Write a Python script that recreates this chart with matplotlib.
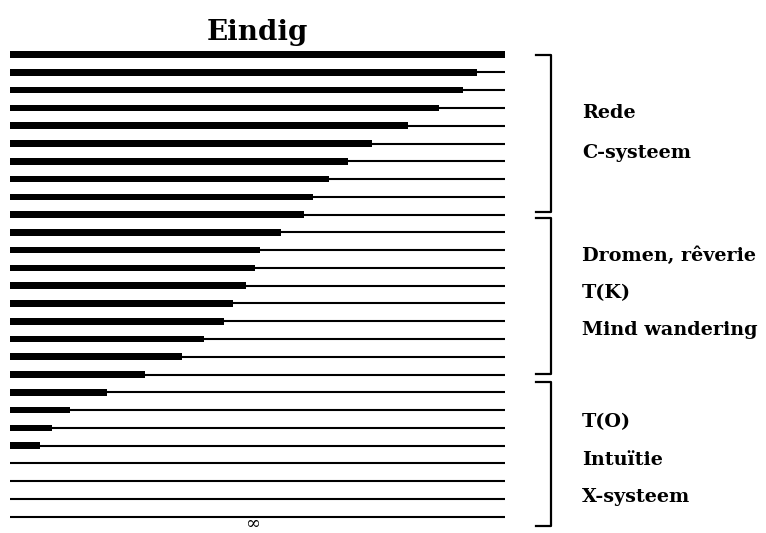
import numpy as np
import matplotlib
matplotlib.use("Agg")
import matplotlib.pyplot as plt
import matplotlib.transforms as mtransforms

# bar lengths per row, top to bottom (percent of full length)
values = [100, 94.3, 91.5, 86.7, 80.5, 73.1, 68.3, 64.4, 61.2, 59.4,
          54.7, 50.5, 49.5, 47.7, 45.1, 43.2, 39.2, 34.7, 27.3, 19.6,
          12.1, 8.5, 6.1, 0, 0, 0, 0]

# bracket spans in row units and the labels beside them
bracket_spans = [(0.0, 8.83), (9.17, 17.98), (18.4, 26.5)]
group_labels = [["Rede", "C-systeem"],
                ["Dromen, rêverie", "T(K)", "Mind wandering"],
                ["T(O)", "Intuïtie", "X-systeem"]]
label_rows = [[3.28, 5.53],
              [11.3, 13.4, 15.5],
              [20.7, 22.8, 24.9]]

title = "Eindig"
xlabel = "∞"

plt.rcParams['font.family'] = ['DejaVu Serif']

fig = plt.figure(figsize=(7.66, 5.33), dpi=100)
ax = fig.add_axes([10/766, 0.0039, 495/766, 0.9102])

rows = np.arange(len(values))
ax.hlines(rows, 0, 100, color='black', lw=1.5)
ax.barh(rows, values, height=0.37, color='black', left=0)

ax.set_xlim(0, 100)
ax.set_ylim(26.8, -0.5)
ax.axis('off')

ax.set_title(title, fontsize=20, fontweight='bold', pad=4)

trans = mtransforms.blended_transform_factory(ax.transAxes, ax.transData)
x_in, x_out = 1.0626, 1.093
for (top, bot), labels, ys in zip(bracket_spans, group_labels, label_rows):
    ax.plot([x_in, x_out, x_out, x_in], [top, top, bot, bot], color='black',
            lw=1.6, transform=trans, clip_on=False)
    for lab, y in zip(labels, ys):
        ax.text(1.1556, y, lab, transform=trans, fontsize=13.8,
                fontweight='bold', va='center', ha='left')

fig.text(253/766, 0.0, xlabel, fontsize=13,
         ha='center', va='bottom')

fig.savefig('out.png', dpi=100)
